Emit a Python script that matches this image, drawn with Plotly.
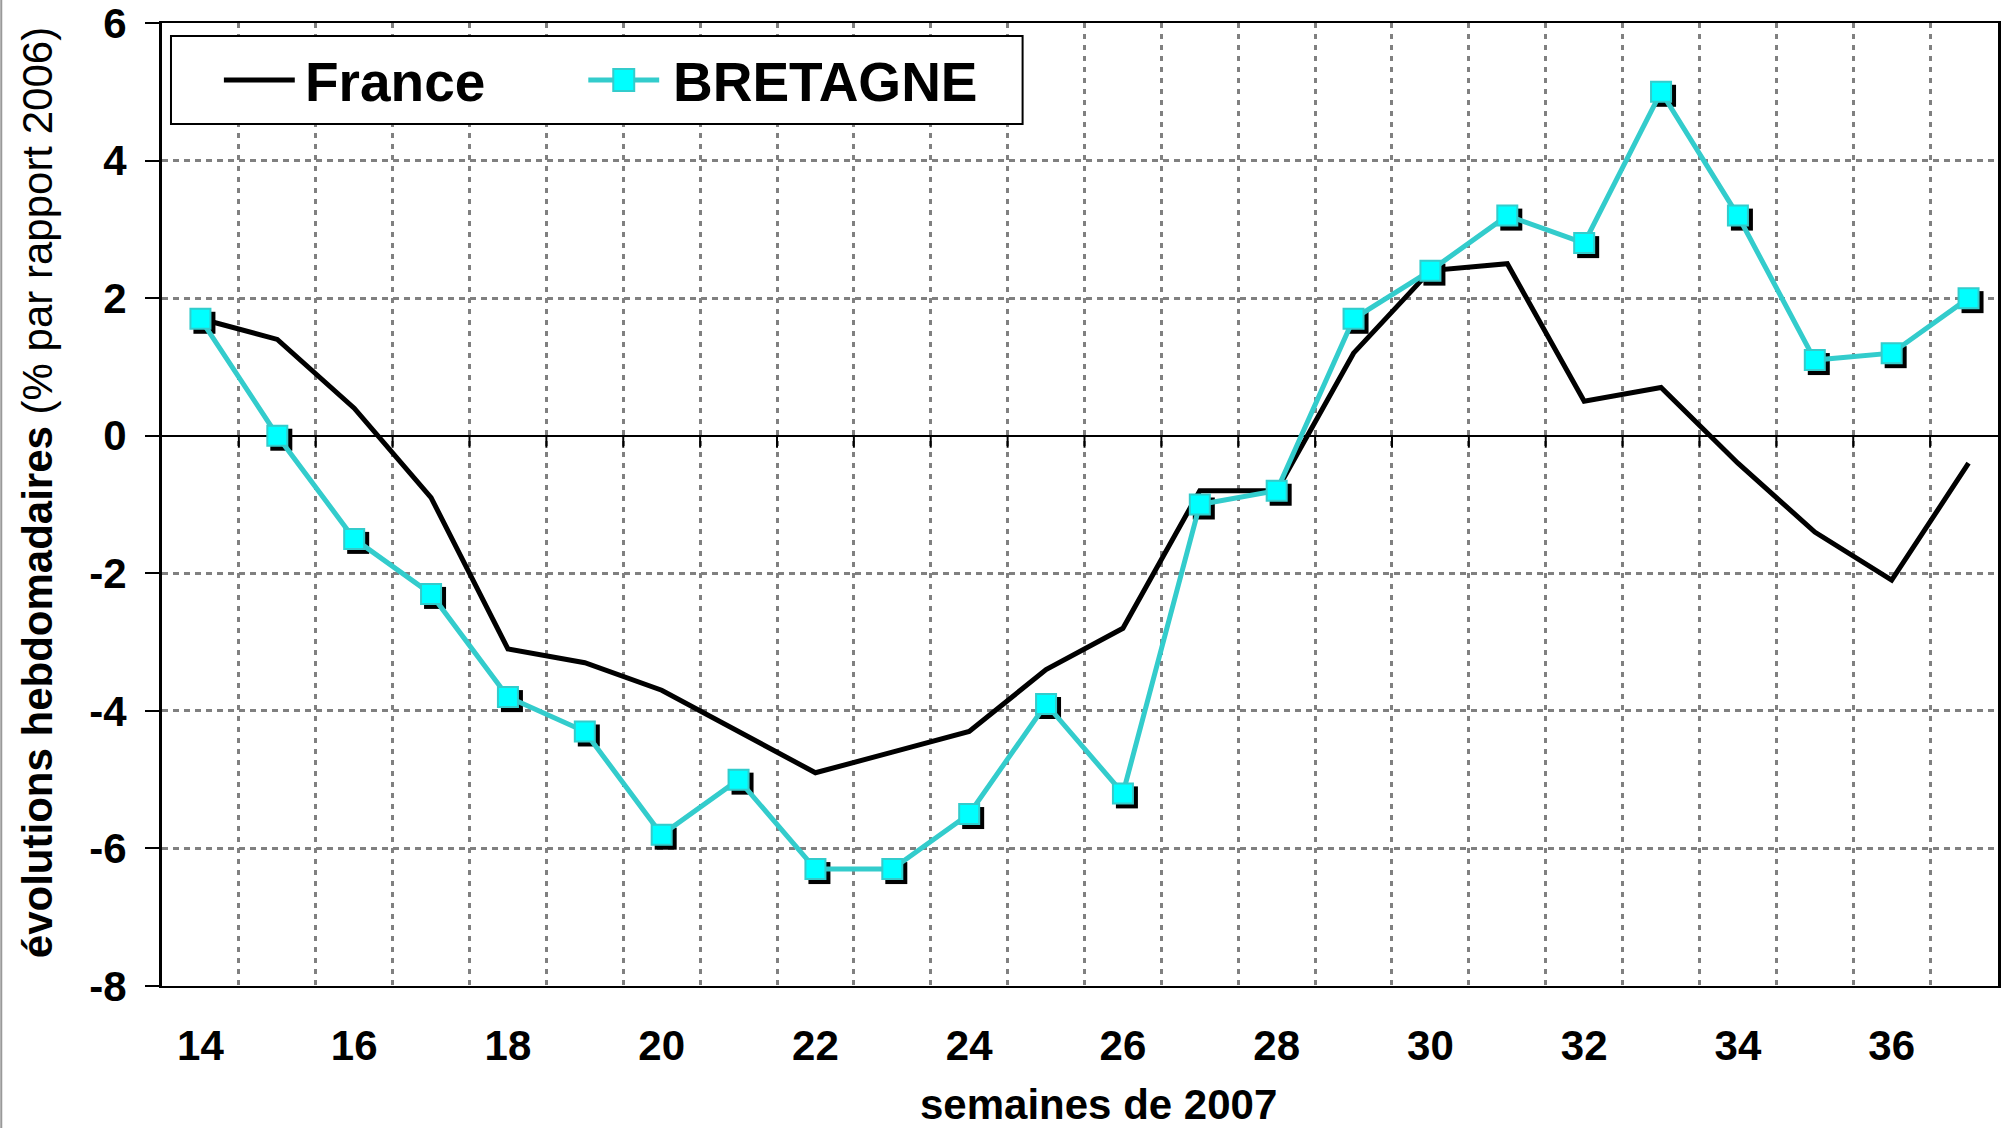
import plotly.graph_objects as go

# ---------------- data ----------------
weeks = list(range(14, 38))
france = [1.7, 1.4, 0.4, -0.9, -3.1, -3.3, -3.7, -4.3, -4.9, -4.6, -4.3, -3.4,
          -2.8, -0.8, -0.8, 1.2, 2.4, 2.5, 0.5, 0.7, -0.4, -1.4, -2.1, -0.4]
bretagne = [1.7, 0.0, -1.5, -2.3, -3.8, -4.3, -5.8, -5.0, -6.3, -6.3, -5.5, -3.9,
            -5.2, -1.0, -0.8, 1.7, 2.4, 3.2, 2.8, 5.0, 3.2, 1.1, 1.2, 2.0]
x_tick_vals = list(range(14, 38, 2))
y_tick_vals = list(range(-8, 7, 2))
series_names = ["France", "BRETAGNE"]

# ---------------- layout geometry ----------------
W, H = 2001, 1128
L, R, T, B = 162, 0, 23, 142
plotW, plotH = W - L - R, H - T - B
px_per_cat = 77.0
x0 = weeks[0] - 0.5
x_range = [x0, x0 + plotW / px_per_cat]
y_range = [-8, 6]
px_per_y = plotH / (y_range[1] - y_range[0])

FONT = "Liberation Sans, Arial, sans-serif"
GRID = "#808080"
CYAN_LINE = "#33CCCC"
CYAN_FILL = "#00FFFF"

def px(xp):
    return (xp - L) / plotW

def py(yp):
    return (H - B - yp) / plotH

fig = go.Figure()

# France line
fig.add_trace(go.Scatter(x=weeks, y=france, mode="lines", name=series_names[0],
                         line=dict(color="black", width=5), showlegend=False,
                         xaxis="x", yaxis="y"))

# tick marks on the zero line at category boundaries
tick_len = 12 / px_per_y
tx, ty = [], []
for w in weeks[:-1]:
    tx += [w + 0.5, w + 0.5, None]
    ty += [0, -tick_len, None]
fig.add_trace(go.Scatter(x=tx, y=ty, mode="lines", line=dict(color="black", width=2),
                         hoverinfo="skip", showlegend=False, xaxis="x", yaxis="y"))

# marker shadow (shifted axes by a few pixels)
dx = 4 / px_per_cat
dy = 4 / px_per_y
fig.add_trace(go.Scatter(x=weeks, y=bretagne, mode="markers",
                         marker=dict(symbol="square", size=22, color="black"),
                         hoverinfo="skip", showlegend=False, xaxis="x2", yaxis="y2"))

# Bretagne line + markers
fig.add_trace(go.Scatter(x=weeks, y=bretagne, mode="lines+markers", name=series_names[1],
                         line=dict(color=CYAN_LINE, width=5),
                         marker=dict(symbol="square", size=20, color=CYAN_FILL,
                                     line=dict(color=CYAN_LINE, width=2)),
                         showlegend=False, xaxis="x3", yaxis="y3"))

fig.update_layout(
    width=W, height=H,
    margin=dict(l=L, r=R, t=T, b=B),
    paper_bgcolor="white", plot_bgcolor="white",
    font=dict(family=FONT, color="black"),
    xaxis=dict(range=x_range, tickvals=x_tick_vals, ticktext=[str(v) for v in x_tick_vals],
               tickfont=dict(size=42, weight="bold", family=FONT), ticks="",
               ticklabelstandoff=22,
               showgrid=False, zeroline=False,
               showline=True, linecolor="black", linewidth=2, mirror=True,
               minor=dict(tick0=x0 + 1, dtick=1, showgrid=True, gridcolor=GRID,
                          gridwidth=3, griddash="5px,6px")),
    yaxis=dict(range=y_range, tickvals=y_tick_vals, ticktext=[str(v) for v in y_tick_vals],
               tickfont=dict(size=42, weight="bold", family=FONT),
               ticks="outside", ticklen=14, tickwidth=2, tickcolor="black",
               ticklabelstandoff=10, ticklabeloverflow="allow",
               showgrid=True, gridcolor=GRID, gridwidth=3, griddash="6px,5px",
               zeroline=True, zerolinecolor="black", zerolinewidth=2,
               showline=True, linecolor="black", linewidth=3, mirror=True),
    xaxis2=dict(range=[x_range[0] - dx, x_range[1] - dx], overlaying="x", visible=False),
    yaxis2=dict(range=[y_range[0] + dy, y_range[1] + dy], overlaying="y", visible=False),
    xaxis3=dict(range=x_range, overlaying="x", visible=False),
    yaxis3=dict(range=y_range, overlaying="y", visible=False),
    showlegend=False,
)

# axis titles
fig.add_annotation(text="<b>évolutions hebdomadaires</b> (% par rapport 2006)",
                   xref="paper", yref="paper", x=px(37), y=py(493),
                   xanchor="center", yanchor="middle", textangle=-90,
                   showarrow=False, font=dict(size=42, family=FONT, color="black"))
fig.add_annotation(text="<b>semaines de 2007</b>",
                   xref="paper", yref="paper", x=px(1100), y=py(1104),
                   xanchor="center", yanchor="middle",
                   showarrow=False, font=dict(size=42, family=FONT, color="black"))

# custom legend
fig.add_shape(type="rect", xref="paper", yref="paper",
              x0=px(171), x1=px(1024), y0=py(36), y1=py(124),
              line=dict(color="black", width=2), fillcolor="white", layer="above")
leg_y = 80
fig.add_shape(type="line", xref="paper", yref="paper",
              x0=px(224), x1=px(295), y0=py(leg_y), y1=py(leg_y),
              line=dict(color="black", width=5), layer="above")
fig.add_shape(type="line", xref="paper", yref="paper",
              x0=px(589), x1=px(660), y0=py(leg_y), y1=py(leg_y),
              line=dict(color=CYAN_LINE, width=5), layer="above")
fig.add_shape(type="rect", xref="paper", yref="paper",
              x0=px(614), x1=px(635), y0=py(leg_y - 11), y1=py(leg_y + 11),
              line=dict(color=CYAN_LINE, width=2), fillcolor=CYAN_FILL, layer="above")
fig.add_annotation(text="<b>%s</b>" % series_names[0], xref="paper", yref="paper",
                   x=px(303), y=py(leg_y + 2), xanchor="left", yanchor="middle",
                   showarrow=False, font=dict(size=55, family=FONT, color="black"))
fig.add_annotation(text="<b>%s</b>" % series_names[1], xref="paper", yref="paper",
                   x=px(672), y=py(leg_y + 2), xanchor="left", yanchor="middle",
                   showarrow=False, font=dict(size=55, family=FONT, color="black"))

# thin frame line at the left edge of the image
fig.add_shape(type="line", xref="paper", yref="paper",
              x0=px(1), x1=px(1), y0=py(0), y1=py(H),
              line=dict(color="#999999", width=2))

fig.write_html("out.html",
               config={"displayModeBar": False},
               post_script="document.body.style.margin='0';"
                           "document.body.style.overflow='hidden';")
